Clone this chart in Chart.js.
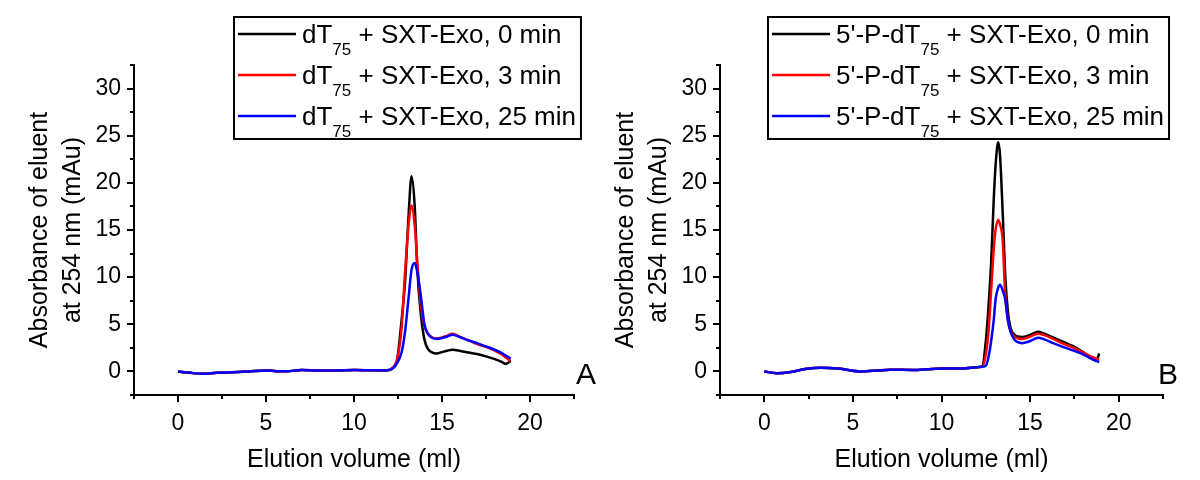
<!DOCTYPE html>
<html>
<head>
<meta charset="utf-8">
<script src="https://cdn.jsdelivr.net/npm/chart.js@4.4.1/dist/chart.umd.min.js"></script>
<style>
  html, body { margin: 0; padding: 0; background: #fff; }
  .wrap { display: flex; width: 1200px; height: 480px; }
  .panel { width: 600px; height: 480px; }
</style>
</head>
<body>
<div class="wrap">
  <div class="panel"><canvas id="chartA" width="600" height="480"></canvas></div>
  <div class="panel"><canvas id="chartB" width="600" height="480"></canvas></div>
</div>
<script>
// ---- panel A: dT75 ----
const volA = [0, 0.7, 1.4, 2.2, 3.1, 4.0, 5.0, 5.6, 6.2, 7.0, 8.0, 9.0, 10.0, 11.0, 11.8,
  12.2, 12.45, 12.7, 12.9, 13.1, 13.27, 13.45, 13.6, 13.8, 14.0, 14.2, 14.45, 14.7, 15.0,
  15.3, 15.6, 16.0, 16.5, 17.0, 17.5, 18.0, 18.4, 18.6, 18.75, 18.9];
const baseA = [0, -0.15, -0.25, -0.15, -0.1, -0.02, 0.1, 0.03, 0.02, 0.15, 0.1, 0.1, 0.15, 0.12, 0.1];
const a0min = baseA.concat([0.35, 1.2, 5.4, 9.5, 16.5, 20.7, 17.5, 10.7, 6.0, 3.4, 2.4, 2.0, 1.9, 2.05,
  2.2, 2.3, 2.2, 2.0, 1.85, 1.6, 1.3, 1.0, 0.8, 0.9, 1.1]);
const a3min = baseA.concat([0.4, 1.3, 4.5, 10.5, 15.5, 17.6, 15.5, 11.5, 7.0, 4.8, 4.0, 3.6, 3.5, 3.6,
  3.8, 4.0, 3.7, 3.3, 2.9, 2.6, 2.2, 1.8, 1.5, 1.3, 1.1]);
const a25min = baseA.concat([0.3, 0.9, 2.0, 4.2, 7.8, 10.8, 11.5, 10.5, 8.0, 5.0, 4.0, 3.55, 3.45, 3.55,
  3.7, 3.9, 3.65, 3.3, 3.0, 2.65, 2.3, 1.95, 1.7, 1.55, 1.35]);

// ---- panel B: 5'-P-dT75 ----
const volB = [0, 0.7, 1.5, 2.3, 3.2, 4.2, 5.5, 6.4, 7.1, 8.5, 10, 11, 12,
  12.3, 12.5, 12.65, 12.8, 12.95, 13.05, 13.2, 13.3, 13.45, 13.6, 13.75, 13.9, 14.1, 14.3,
  14.55, 14.9, 15.2, 15.45, 15.8, 16.3, 16.85, 17.4, 17.9, 18.3, 18.6, 18.75, 18.9];
const baseB = [0, -0.18, -0.05, 0.25, 0.4, 0.3, 0.0, 0.1, 0.18, 0.15, 0.3, 0.3, 0.45];
const b0min = baseB.concat([0.55, 3.2, 6.8, 11.5, 18.3, 21.8, 24.3, 23.0, 17.0, 10.0, 6.3, 4.6, 3.9, 3.7,
  3.65, 3.8, 4.05, 4.2, 4.0, 3.6, 3.15, 2.7, 2.15, 1.6, 1.25, 1.2, 1.9]);
const b3min = baseB.concat([0.5, 1.8, 4.2, 8.5, 13.0, 15.0, 16.1, 15.6, 14.0, 8.0, 5.4, 4.3, 3.7, 3.5,
  3.45, 3.6, 3.85, 4.0, 3.85, 3.45, 2.95, 2.55, 2.1, 1.7, 1.45, 1.35, 1.3]);
const b25min = baseB.concat([0.5, 0.6, 1.5, 3.2, 5.5, 7.6, 8.9, 9.2, 8.6, 7.6, 5.4, 4.2, 3.4, 3.1,
  3.0, 3.15, 3.4, 3.58, 3.4, 3.0, 2.6, 2.25, 1.9, 1.5, 1.2, 1.1, 1.0]);

const times = ['0 min', '3 min', '25 min'];
const colors = ['#000000', '#ff0000', '#0000ff'];
const xTicks = [0, 5, 10, 15, 20];
const yTicks = [0, 5, 10, 15, 20, 25, 30];
const minorX = [-2.5, 2.5, 7.5, 12.5, 17.5, 22.5];
const minorY = [-2.5, 2.5, 7.5, 12.5, 17.5, 22.5, 27.5, 32.5];

const FONT = "'Liberation Sans', Arial, sans-serif";
Chart.defaults.font.family = FONT;
Chart.defaults.color = '#000';

const decorations = {
  id: 'decorations',
  afterDraw(chart, args, o) {
    const ctx = chart.ctx;
    const xs = chart.scales.x, ys = chart.scales.y;
    ctx.save();
    ctx.strokeStyle = '#000';
    ctx.lineWidth = 2;
    ctx.beginPath();
    minorX.forEach(v => {
      const px = Math.round(xs.getPixelForValue(v));
      ctx.moveTo(px, xs.top); ctx.lineTo(px, xs.top + 4);
    });
    minorY.forEach(v => {
      const py = Math.round(ys.getPixelForValue(v));
      ctx.moveTo(ys.right, py); ctx.lineTo(ys.right - 4, py);
    });
    ctx.stroke();

    // panel letter
    ctx.fillStyle = '#000';
    ctx.font = '30px ' + FONT;
    ctx.textBaseline = 'alphabetic';
    ctx.fillText(o.letter, o.letterX, o.letterY);

    // legend with subscripts
    const main = '26px ' + FONT, sub = '17px ' + FONT;
    let maxW = 0;
    chart.data.datasets.forEach(ds => {
      ctx.font = main; let w = ctx.measureText(ds.parts[0]).width + ctx.measureText(ds.parts[2]).width;
      ctx.font = sub; w += ctx.measureText(ds.parts[1]).width;
      maxW = Math.max(maxW, w);
    });
    const L = o.legend;
    const textX = L.left + 4 + L.sample + 6;
    const right = textX + maxW + 5;
    chart.data.datasets.forEach((ds, i) => {
      const y = L.top + 17 + i * 41;
      ctx.strokeStyle = ds.borderColor;
      ctx.lineWidth = 2.5;
      ctx.beginPath();
      ctx.moveTo(L.left + 4, y); ctx.lineTo(L.left + 4 + L.sample, y);
      ctx.stroke();
      let x = textX;
      ctx.font = main;
      ctx.fillText(ds.parts[0], x, y + 9);
      x += ctx.measureText(ds.parts[0]).width;
      ctx.font = sub;
      ctx.fillText(ds.parts[1], x, y + 21);
      x += ctx.measureText(ds.parts[1]).width;
      ctx.font = main;
      ctx.fillText(ds.parts[2], x, y + 9);
    });
    ctx.strokeStyle = '#000';
    ctx.lineWidth = 2;
    ctx.strokeRect(L.left, L.top, right - L.left, L.height);
    ctx.restore();
  }
};

function makeChart(id, vol, series, prefix, cfg) {
  const datasets = series.map((s, i) => ({
    label: prefix + '75 + SXT-Exo, ' + times[i],
    parts: [prefix, '75', ' + SXT-Exo, ' + times[i]],
    data: vol.map((v, k) => ({ x: v, y: s[k] })),
    borderColor: colors[i],
    borderWidth: 2.5,
    pointRadius: 0,
    fill: false,
    cubicInterpolationMode: 'monotone',
    order: 2 - i
  }));
  return new Chart(document.getElementById(id), {
    type: 'line',
    data: { datasets },
    plugins: [decorations],
    options: {
      responsive: false,
      animation: false,
      events: [],
      layout: { padding: { top: 65, right: cfg.right, bottom: 0, left: 0 } },
      plugins: {
        legend: { display: false },
        tooltip: { enabled: false },
        decorations: cfg.deco
      },
      scales: {
        x: {
          type: 'linear', min: -2.5, max: 22.5,
          afterBuildTicks: s => { s.ticks = xTicks.map(v => ({ value: v })); },
          afterFit: s => { s.height = 85; },
          border: { display: true, color: '#000', width: 2 },
          grid: { drawOnChartArea: false, drawTicks: true, tickLength: 7, color: '#000', lineWidth: 2 },
          ticks: { padding: 8, font: { size: 23 }, color: '#000', maxRotation: 0 },
          title: { display: true, text: 'Elution volume (ml)', font: { size: 25 }, color: '#000',
            padding: { top: 0, bottom: 5 } }
        },
        y: {
          type: 'linear', min: -2.5, max: 32.5,
          afterBuildTicks: s => { s.ticks = yTicks.map(v => ({ value: v })); },
          afterFit: s => { s.width = cfg.left; },
          border: { display: true, color: '#000', width: 2 },
          grid: { drawOnChartArea: false, drawTicks: true, tickLength: 7, color: '#000', lineWidth: 2 },
          ticks: { padding: 6, font: { size: 23 }, color: '#000' },
          title: { display: true, text: ['Absorbance of eluent', 'at 254 nm (mAu)'], font: { size: 25, lineHeight: 1.3 },
            color: '#000', padding: { top: cfg.titlePad, bottom: 0 } }
        }
      }
    }
  });
}

makeChart('chartA', volA, [a0min, a3min, a25min], 'dT', {
  left: 134, right: 26, titlePad: 24,
  deco: { letter: 'A', letterX: 576, letterY: 384, legend: { left: 234, top: 17, height: 122, sample: 58 } }
});
makeChart('chartB', volB, [b0min, b3min, b25min], "5'-P-dT", {
  left: 120, right: 37, titlePad: 10,
  deco: { letter: 'B', letterX: 558, letterY: 384, legend: { left: 168, top: 17, height: 122, sample: 58 } }
});
</script>
</body>
</html>
